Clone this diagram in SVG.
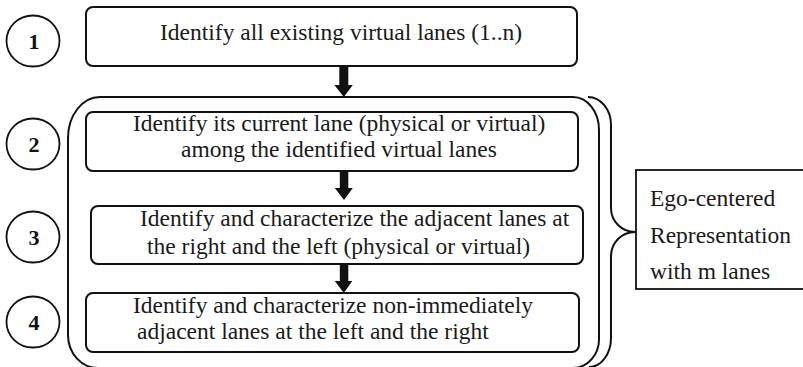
<svg xmlns="http://www.w3.org/2000/svg" width="803" height="367" viewBox="0 0 803 367">
<style>
.box{fill:#fff;stroke:#111;stroke-width:2}
.circ{fill:#fff;stroke:#111;stroke-width:1.8}
.t{font-family:'Liberation Serif','Times New Roman',Times,'DejaVu Serif',serif;font-size:23.5px;fill:#1a1a1a}
.num{font-family:'Liberation Serif','Times New Roman',Times,'DejaVu Serif',serif;font-size:22px;font-weight:bold;fill:#111;text-anchor:middle}
.ln{fill:none;stroke:#111;stroke-width:2}
.arr{fill:#111;stroke:none}
</style>
<rect width="803" height="367" fill="#fff"/>
<g id="connectors">
<path class="ln" d="M100,97 L573,97 A26,33 0 0 1 599,130 L599,338 A26,29 0 0 1 573,368 L98,368 A30,33 0 0 1 68,335 L68,138 A32,41 0 0 1 100,97"/>
<path class="ln" d="M588,97 A23,28 0 0 1 611,125 L611,208 A24,24 0 0 0 635,232 L639,232 M635,232 A24,24 0 0 0 611,256 L611,338 A22,29 0 0 1 589,367"/>
<path class="arr" d="M339.3,66 L348.3,66 L348.3,85 L352.8,85 L343.8,97 L334.3,85 L339.3,85 Z"/>
<path class="arr" d="M339.8,171 L348.3,171 L348.3,188 L352.8,188 L344,200 L334.8,188 L339.8,188 Z"/>
<path class="arr" d="M339.8,264 L348.3,264 L348.3,281 L352.3,281 L343.8,293 L334.8,281 L339.8,281 Z"/>
</g>
<g id="step1">
<ellipse class="circ" cx="33" cy="41" rx="26.5" ry="25.5"/>
<text class="num" x="34" y="49">1</text>
</g>
<g id="step2">
<ellipse class="circ" cx="33" cy="144" rx="26.5" ry="25.5"/>
<text class="num" x="34" y="152">2</text>
</g>
<g id="step3">
<ellipse class="circ" cx="33" cy="237" rx="26.5" ry="25.5"/>
<text class="num" x="34" y="245">3</text>
</g>
<g id="step4">
<ellipse class="circ" cx="33" cy="322" rx="26.5" ry="25.5"/>
<text class="num" x="34" y="330">4</text>
</g>
<g id="box1">
<rect class="box" x="86" y="7" width="491" height="59" rx="7"/>
<text class="t" x="160" y="40">Identify all existing virtual lanes (1..n)</text>
</g>
<g id="box2">
<rect class="box" x="86" y="112" width="492" height="59" rx="7"/>
<text class="t" x="133" y="131">Identify its current lane (physical or virtual)</text>
<text class="t" x="181" y="157">among the identified virtual lanes</text>
</g>
<g id="box3">
<rect class="box" x="91" y="206" width="492" height="58" rx="7"/>
<text class="t" x="140" y="226">Identify and characterize the adjacent lanes at</text>
<text class="t" x="147" y="254">the right and the left (physical or virtual)</text>
</g>
<g id="box4">
<rect class="box" x="86" y="293" width="493" height="59" rx="7"/>
<text class="t" x="133" y="313">Identify and characterize non-immediately</text>
<text class="t" x="137" y="339">adjacent lanes at the left and the right</text>
</g>
<g id="ego">
<rect x="636" y="170" width="200" height="119" fill="#fff" stroke="#111" stroke-width="1.8"/>
<text class="t" x="650" y="206">Ego-centered</text>
<text class="t" x="650" y="243">Representation</text>
<text class="t" x="650" y="279">with m lanes</text>
</g>
</svg>
